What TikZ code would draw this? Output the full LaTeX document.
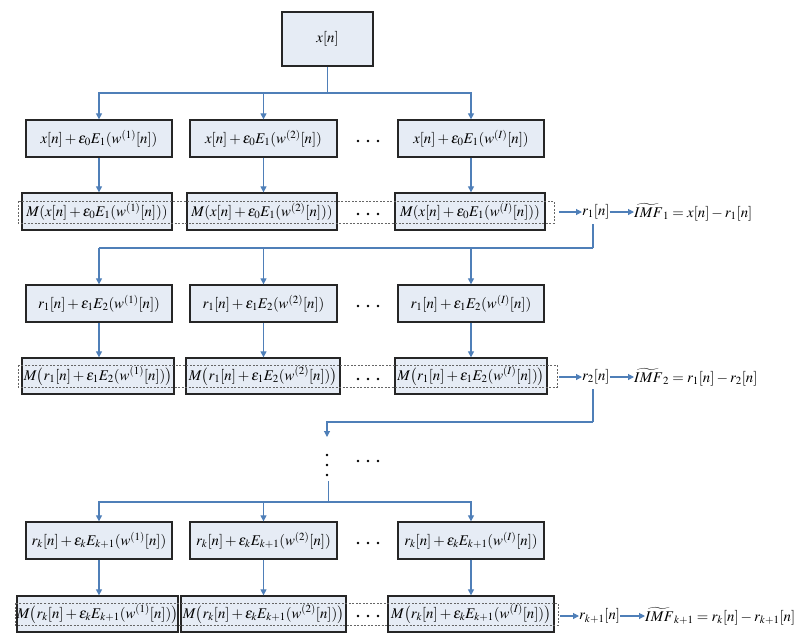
\documentclass[tikz,border=0pt]{standalone}
\usepackage{mathptmx}
\usetikzlibrary{arrows.meta}
\definecolor{boxfill}{HTML}{E6ECF5}
\definecolor{linec}{HTML}{4F7FB8}
\tikzset{
  blk/.style={draw=black!85, line width=1.3pt, fill=boxfill, inner sep=0pt, font=\fontsize{14.8}{17}\selectfont},
  rowA/.style={blk, minimum width=146pt, minimum height=37pt},
  conn/.style={draw=linec, line width=1.1pt},
  arr/.style={conn, -{Triangle[width=6pt,length=6pt]}},
  dashbox/.style={draw=black!60, dashed, line width=0.5pt, dash pattern=on 2pt off 1.5pt},
  lbl/.style={inner sep=0pt, font=\fontsize{14.8}{17}\selectfont}
}
\begin{document}
\begin{tikzpicture}[x=1pt,y=-1pt]
\useasboundingbox (0,0) rectangle (807,641);
% top
\node[blk, minimum width=91pt, minimum height=54pt] (top) at (327.5,39) {$x[n]$};
% stage 1
\node[rowA] (A1) at (99,138.5) {$x[n]+\epsilon_0E_1(w^{(1)}[n])$};
\node[rowA, minimum width=147pt] (A2) at (263.5,138.5) {$x[n]+\epsilon_0E_1(w^{(2)}[n])$};
\node[rowA] (A3) at (471,138.5) {$x[n]+\epsilon_0E_1(w^{(I)}[n])$};
\node[blk, minimum width=150pt, minimum height=37pt] (B1) at (97,211.5) {$M(x[n]+\epsilon_0E_1(w^{(1)}[n]))$};
\node[blk, minimum width=150pt, minimum height=37pt] (B2) at (262,211.5) {$M(x[n]+\epsilon_0E_1(w^{(2)}[n]))$};
\node[blk, minimum width=150pt, minimum height=37pt] (B3) at (470,211.5) {$M(x[n]+\epsilon_0E_1(w^{(I)}[n]))$};
\draw[dashbox] (18,201) rectangle (554,223);
% stage 2
\node[rowA] (C1) at (99,303.5) {$r_1[n]+\epsilon_1E_2(w^{(1)}[n])$};
\node[rowA, minimum width=147pt] (C2) at (263.5,303.5) {$r_1[n]+\epsilon_1E_2(w^{(2)}[n])$};
\node[rowA] (C3) at (471,303.5) {$r_1[n]+\epsilon_1E_2(w^{(I)}[n])$};
\node[blk, minimum width=152pt, minimum height=36pt] (D1) at (98,376) {$M\bigl(r_1[n]+\epsilon_1E_2(w^{(1)}[n])\bigr)$};
\node[blk, minimum width=154pt, minimum height=36pt] (D2) at (263,376) {$M\bigl(r_1[n]+\epsilon_1E_2(w^{(2)}[n])\bigr)$};
\node[blk, minimum width=152pt, minimum height=36pt] (D3) at (471,376) {$M\bigl(r_1[n]+\epsilon_1E_2(w^{(I)}[n])\bigr)$};
\draw[dashbox] (18,365) rectangle (557,387);
% stage k
\node[rowA] (E1) at (99,540.5) {$r_k[n]+\epsilon_kE_{k+1}(w^{(1)}[n])$};
\node[rowA, minimum width=147pt] (E2) at (263.5,540.5) {$r_k[n]+\epsilon_kE_{k+1}(w^{(2)}[n])$};
\node[rowA] (E3) at (471,540.5) {$r_k[n]+\epsilon_kE_{k+1}(w^{(I)}[n])$};
\node[blk, minimum width=161pt, minimum height=36pt] (F1) at (97.5,614) {$M\bigl(r_k[n]+\epsilon_kE_{k+1}(w^{(1)}[n])\bigr)$};
\node[blk, minimum width=165pt, minimum height=36pt] (F2) at (263.5,614) {$M\bigl(r_k[n]+\epsilon_kE_{k+1}(w^{(2)}[n])\bigr)$};
\node[blk, minimum width=166pt, minimum height=36pt] (F3) at (471,614) {$M\bigl(r_k[n]+\epsilon_kE_{k+1}(w^{(I)}[n])\bigr)$};
\draw[dashbox] (15,603) rectangle (558,625);
% dots between columns
\foreach \y in {141,214,306,379,543,616,461}{
  \foreach \x in {358,368,378}{ \fill (\x,\y) circle (1.4pt); }
}
\foreach \y in {455,465,475}{ \fill (327,\y) circle (1.4pt); }
% outputs
\node[lbl, anchor=west] (r1) at (582,212) {$r_1[n]$};
\node[lbl, anchor=west] (imf1) at (634,212) {$\widetilde{IMF}_1=x[n]-r_1[n]$};
\node[lbl, anchor=west] (r2) at (582,377) {$r_2[n]$};
\node[lbl, anchor=west] (imf2) at (634,377) {$\widetilde{IMF}_2=r_1[n]-r_2[n]$};
\node[lbl, anchor=west] (rk) at (579,616) {$r_{k+1}[n]$};
\node[lbl, anchor=west] (imfk) at (645,616) {$\widetilde{IMF}_{k+1}=r_k[n]-r_{k+1}[n]$};
\coordinate (d1) at (559,212);
\coordinate (d2) at (559,377);
\coordinate (d3) at (560,616);
\draw[arr] (d1) -- (r1.west);
\draw[arr] (r1.east) -- (imf1.west);
\draw[arr] (d2) -- (r2.west);
\draw[arr] (r2.east) -- (imf2.west);
\draw[arr] (d3) -- (rk.west);
\draw[arr] (rk.east) -- (imfk.west);
% fan 1
\coordinate (j1) at (327.5,93);
\draw[conn] (top.south) -- (j1);
\draw[arr] (j1) -| (A1.north);
\draw[arr] (j1) -| (A3.north);
\draw[arr] (A2.north |- j1) -- (A2.north);
\foreach \a/\b in {A1/B1,A2/B2,A3/B3,C1/D1,C2/D2,C3/D3,E1/F1,E2/F2,E3/F3}{
  \draw[arr] (\a.south) -- (\a.south |- \b.north);
}
% loop from r1
\coordinate (j2) at (593,248);
\draw[conn] (593,224) -- (j2);
\draw[conn] (j2) -- (A1.north |- j2);
\draw[arr] (A1.north |- j2) -- (C1.north);
\draw[arr] (C2.north |- j2) -- (C2.north);
\draw[arr] (C3.north |- j2) -- (C3.north);
% loop from r2
\coordinate (j3) at (593,422);
\coordinate (v1) at (327,437);
\draw[conn] (593,389) -- (j3);
\draw[arr] (j3) -| (v1);
% after vertical dots
\coordinate (v2) at (328.5,481);
\coordinate (j4) at (328.5,502);
\draw[conn] (v2) -- (j4);
\draw[arr] (j4) -| (E1.north);
\draw[arr] (j4) -| (E3.north);
\draw[arr] (E2.north |- j4) -- (E2.north);
\end{tikzpicture}
\end{document}
